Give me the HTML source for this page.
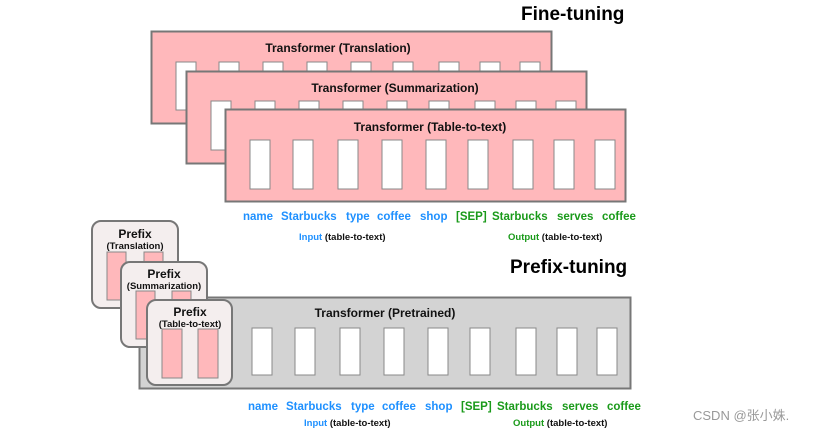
<!DOCTYPE html>
<html><head><meta charset="utf-8"><style>
html,body{margin:0;padding:0;background:#fff;}
svg{display:block;font-family:"Liberation Sans",Arial,sans-serif;}
.t{font-weight:bold;font-size:12px;fill:#111;}
.b{fill:#1e90ff;font-weight:bold;font-size:11.5px;}
.g{fill:#1a9a1a;font-weight:bold;font-size:11.5px;}
.l{font-weight:bold;font-size:9.5px;fill:#111;}
</style></head><body>
<svg width="820" height="435" viewBox="0 0 820 435">
<text x="521" y="20" font-size="19" font-weight="bold" fill="#000">Fine-tuning</text>
<!-- box1 -->
<rect x="151.5" y="31.5" width="400" height="92" fill="#ffb8bb" stroke="#777" stroke-width="2"/>
<text x="338" y="52" text-anchor="middle" class="t">Transformer (Translation)</text>
<g fill="#fff" stroke="#888" stroke-width="1">
<rect x="176" y="62" width="20" height="48"/><rect x="219" y="62" width="20" height="48"/><rect x="263" y="62" width="20" height="48"/><rect x="307" y="62" width="20" height="48"/><rect x="351" y="62" width="20" height="48"/><rect x="393" y="62" width="20" height="48"/><rect x="439" y="62" width="20" height="48"/><rect x="480" y="62" width="20" height="48"/><rect x="520" y="62" width="20" height="48"/>
</g>
<!-- box2 -->
<rect x="186.5" y="71.5" width="400" height="92" fill="#ffb8bb" stroke="#777" stroke-width="2"/>
<text x="395" y="92" text-anchor="middle" class="t">Transformer (Summarization)</text>
<g fill="#fff" stroke="#888" stroke-width="1">
<rect x="211" y="101" width="20" height="49"/><rect x="255" y="101" width="20" height="49"/><rect x="299" y="101" width="20" height="49"/><rect x="343" y="101" width="20" height="49"/><rect x="387" y="101" width="20" height="49"/><rect x="429" y="101" width="20" height="49"/><rect x="475" y="101" width="20" height="49"/><rect x="516" y="101" width="20" height="49"/><rect x="556" y="101" width="20" height="49"/>
</g>
<!-- box3 -->
<rect x="225.5" y="109.5" width="400" height="92" fill="#ffb8bb" stroke="#777" stroke-width="2"/>
<text x="430" y="131" text-anchor="middle" class="t">Transformer (Table-to-text)</text>
<g fill="#fff" stroke="#888" stroke-width="1">
<rect x="250" y="140" width="20" height="49"/><rect x="293" y="140" width="20" height="49"/><rect x="338" y="140" width="20" height="49"/><rect x="382" y="140" width="20" height="49"/><rect x="426" y="140" width="20" height="49"/><rect x="468" y="140" width="20" height="49"/><rect x="513" y="140" width="20" height="49"/><rect x="554" y="140" width="20" height="49"/><rect x="595" y="140" width="20" height="49"/>
</g>
<g>
<text x="243" y="220" class="b">name</text><text x="281" y="220" class="b">Starbucks</text><text x="346" y="220" class="b">type</text><text x="377" y="220" class="b">coffee</text><text x="420" y="220" class="b">shop</text>
<text x="456" y="220" class="g">[SEP]</text><text x="492" y="220" class="g">Starbucks</text><text x="557" y="220" class="g">serves</text><text x="602" y="220" class="g">coffee</text>
<text x="299" y="240" class="l"><tspan fill="#1e90ff">Input</tspan> (table-to-text)</text>
<text x="508" y="240" class="l"><tspan fill="#1a9a1a">Output</tspan> (table-to-text)</text>
</g>
<text x="510" y="273" font-size="19" font-weight="bold" fill="#000">Prefix-tuning</text>
<!-- gray -->
<rect x="139.5" y="297.5" width="491" height="91" fill="#d3d3d3" stroke="#777" stroke-width="2"/>
<text x="385" y="317" text-anchor="middle" class="t">Transformer  (Pretrained)</text>
<g fill="#fff" stroke="#888" stroke-width="1">
<rect x="252" y="328" width="20" height="47"/><rect x="295" y="328" width="20" height="47"/><rect x="340" y="328" width="20" height="47"/><rect x="384" y="328" width="20" height="47"/><rect x="428" y="328" width="20" height="47"/><rect x="470" y="328" width="20" height="47"/><rect x="516" y="328" width="20" height="47"/><rect x="557" y="328" width="20" height="47"/><rect x="597" y="328" width="20" height="47"/>
</g>
<!-- prefix cards -->
<rect x="92" y="221" width="86" height="87" rx="9" fill="#f4eeee" stroke="#777" stroke-width="2"/>
<text x="135" y="238" text-anchor="middle" class="t">Prefix</text>
<text x="135" y="249" text-anchor="middle" class="l">(Translation)</text>
<rect x="107" y="252" width="19" height="48" fill="#ffb8bb" stroke="#888"/><rect x="144" y="252" width="19" height="48" fill="#ffb8bb" stroke="#888"/>
<rect x="121" y="262" width="86" height="85" rx="9" fill="#f4eeee" stroke="#777" stroke-width="2"/>
<text x="164" y="278" text-anchor="middle" class="t">Prefix</text>
<text x="164" y="289" text-anchor="middle" class="l">(Summarization)</text>
<rect x="136" y="291" width="19" height="48" fill="#ffb8bb" stroke="#888"/><rect x="172" y="291" width="19" height="48" fill="#ffb8bb" stroke="#888"/>
<rect x="147" y="300" width="85" height="85" rx="9" fill="#f4eeee" stroke="#777" stroke-width="2"/>
<text x="190" y="316" text-anchor="middle" class="t">Prefix</text>
<text x="190" y="327" text-anchor="middle" class="l">(Table-to-text)</text>
<rect x="162" y="329" width="20" height="49" fill="#ffb8bb" stroke="#888"/><rect x="198" y="329" width="20" height="49" fill="#ffb8bb" stroke="#888"/>
<g>
<text x="248" y="410" class="b">name</text><text x="286" y="410" class="b">Starbucks</text><text x="351" y="410" class="b">type</text><text x="382" y="410" class="b">coffee</text><text x="425" y="410" class="b">shop</text>
<text x="461" y="410" class="g">[SEP]</text><text x="497" y="410" class="g">Starbucks</text><text x="562" y="410" class="g">serves</text><text x="607" y="410" class="g">coffee</text>
<text x="304" y="426" class="l"><tspan fill="#1e90ff">Input</tspan> (table-to-text)</text>
<text x="513" y="426" class="l"><tspan fill="#1a9a1a">Output</tspan> (table-to-text)</text>
</g>
<text x="693" y="420" font-size="13" fill="#999" font-family="'Liberation Sans','Noto Sans CJK SC',sans-serif">CSDN @张小姝.</text>
</svg>
</body></html>
